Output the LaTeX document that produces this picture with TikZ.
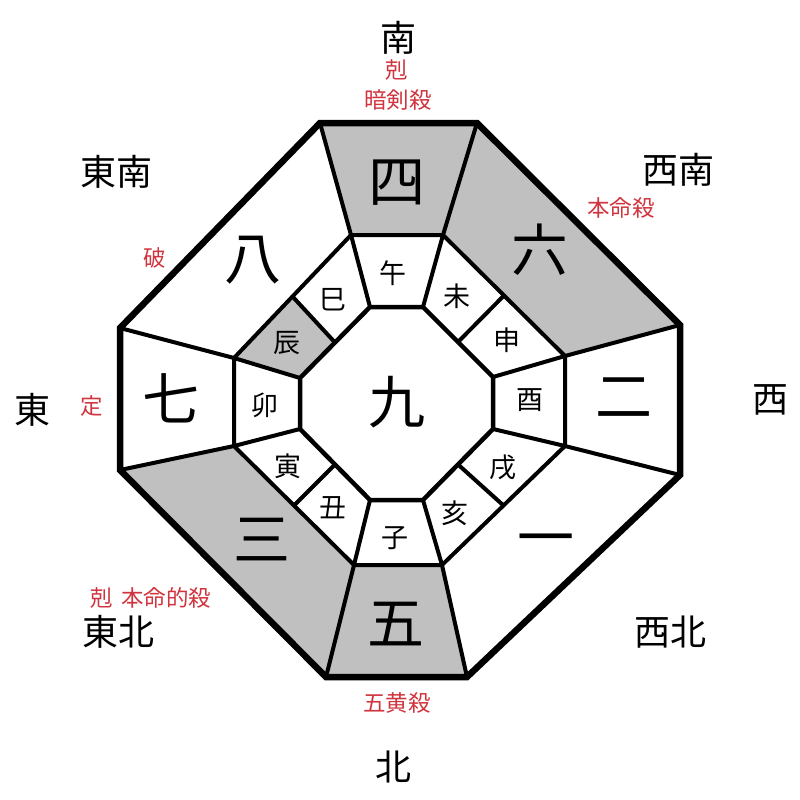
\documentclass[tikz,border=0pt]{standalone}
\usepackage{fontspec}
\usetikzlibrary{calc}
\setmainfont{Noto Sans CJK JP}
\definecolor{cellgray}{RGB}{192,192,192}
\definecolor{labred}{RGB}{208,52,62}
\begin{document}
\begin{tikzpicture}[x=1pt,y=-1pt,
  thickline/.style={line width=4pt,line join=miter},
  outerline/.style={line width=6.5pt,line join=miter},
  shade/.style={fill=cellgray,draw=none},
  dirlab/.style={font=\fontsize{36}{38}\selectfont,inner sep=0pt},
  redlab/.style={font=\fontsize{22.5}{24}\selectfont,text=labred,inner sep=0pt},
  numlab/.style={font=\fontsize{57}{59}\selectfont,inner sep=0pt},
  zodlab/.style={font=\fontsize{27}{29}\selectfont,inner sep=0pt}]
\useasboundingbox (0,0) rectangle (800,800);
% outer octagon
\coordinate (O1) at (320,123); \coordinate (O2) at (477,123);
\coordinate (O3) at (680,325); \coordinate (O4) at (680,475);
\coordinate (O5) at (467,677); \coordinate (O6) at (326,677);
\coordinate (O7) at (120,470); \coordinate (O8) at (120,328);
% middle octagon
\coordinate (M1) at (351,235); \coordinate (M2) at (443,235);
\coordinate (M3) at (565,356); \coordinate (M4) at (565,446);
\coordinate (M5) at (442,565); \coordinate (M6) at (354,565);
\coordinate (M7) at (234,446); \coordinate (M8) at (234,358);
\coordinate (D1) at ($(M2)!0.5!(M3)$);
\coordinate (D2) at ($(M4)!0.5!(M5)$);
\coordinate (D3) at ($(M6)!0.5!(M7)$);
\coordinate (D4) at ($(M8)!0.5!(M1)$);
% inner octagon
\coordinate (I1) at (370,307); \coordinate (I2) at (423,307);
\coordinate (I3) at (493,377); \coordinate (I4) at (493,429);
\coordinate (I5) at (423,500); \coordinate (I6) at (370,500);
\coordinate (I7) at (300,429); \coordinate (I8) at (300,378);
\coordinate (E1) at ($(I2)!0.5!(I3)$);
\coordinate (E2) at ($(I4)!0.5!(I5)$);
\coordinate (E3) at ($(I6)!0.5!(I7)$);
\coordinate (E4) at ($(I8)!0.5!(I1)$);
% shaded cells
\fill[shade] (O1) -- (O2) -- (M2) -- (M1) -- cycle;
\fill[shade] (O2) -- (O3) -- (M3) -- (M2) -- cycle;
\fill[shade] (O6) -- (O7) -- (M7) -- (M6) -- cycle;
\fill[shade] (O5) -- (O6) -- (M6) -- (M5) -- cycle;
\fill[shade] (M8) -- (D4) -- (E4) -- (I8) -- cycle;
% sector dividers
\draw[thickline] (O1) -- (M1) (O2) -- (M2) (O3) -- (M3) (O4) -- (M4)
  (O5) -- (M5) (O6) -- (M6) (O7) -- (M7) (O8) -- (M8);
% middle octagon
\draw[thickline] (M1) -- (M2) -- (M3) -- (M4) -- (M5) -- (M6) -- (M7) -- (M8) -- cycle;
% zodiac dividers
\draw[thickline] (I1) -- (M1) (I2) -- (M2) (E1) -- (D1) (I3) -- (M3)
  (I4) -- (M4) (E2) -- (D2) (I5) -- (M5) (I6) -- (M6)
  (E3) -- (D3) (I7) -- (M7) (I8) -- (M8) (E4) -- (D4);
% inner octagon
\draw[thickline,line width=4.5pt] (I1) -- (I2) -- (I3) -- (I4) -- (I5) -- (I6) -- (I7) -- (I8) -- cycle;
% outer octagon
\draw[outerline] (O1) -- (O2) -- (O3) -- (O4) -- (O5) -- (O6) -- (O7) -- (O8) -- cycle;
% numbers
\node[numlab] (n4) at (397,183) {四};
\node[numlab] (n6) at (540,250) {六};
\node[numlab] (n8) at (253,260) {八};
\node[numlab] (n7) at (171,398) {七};
\node[numlab] (n9) at (397,402) {九};
\node[numlab] (n2) at (624,398) {二};
\node[numlab] (n1) at (546,546) {一};
\node[numlab] (n3) at (262,540) {三};
\node[numlab] (n5) at (396,624) {五};
% zodiac
\node[zodlab] (zu) at (393,273) {午};
\node[zodlab] (zh) at (457,296) {未};
\node[zodlab] (zs) at (507,340) {申};
\node[zodlab] (zt) at (530,400) {酉};
\node[zodlab] (zi) at (503,467) {戌};
\node[zodlab] (zg) at (455,513) {亥};
\node[zodlab] (zn) at (395,538) {子};
\node[zodlab] (zx) at (333,508) {丑};
\node[zodlab] (zy) at (288,466) {寅};
\node[zodlab] (zm) at (265,405) {卯};
\node[zodlab] (zc) at (287,343) {辰};
\node[zodlab] (zb) at (333,300) {巳};
% directions
\node[dirlab] (south) at (398,38) {南};
\node[dirlab] (se) at (116,172) {東南};
\node[dirlab] (sw) at (678,170) {西南};
\node[dirlab] (east) at (32,410) {東};
\node[dirlab] (west) at (770,400) {西};
\node[dirlab] (ne) at (118,632) {東北};
\node[dirlab] (nw) at (670,632) {西北};
\node[dirlab] (north) at (393,767) {北};
% red labels
\node[redlab] (r1) at (397,70) {剋};
\node[redlab] (r2) at (398,100) {暗剣殺};
\node[redlab] (r3) at (621,208) {本命殺};
\node[redlab] (r4) at (155,258) {破};
\node[redlab] (r5) at (92,406) {定};
\node[redlab] (r6) at (151,598) {剋\hspace{8pt}本命的殺};
\node[redlab] (r7) at (397,703) {五黄殺};
\end{tikzpicture}
\end{document}
